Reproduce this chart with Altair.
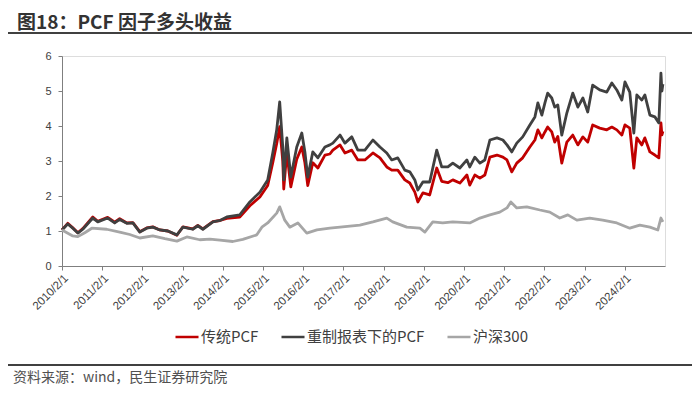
import altair as alt
import pandas as pd

# ---- data ----
pcf_dates = [
    "2010-02-01", "2010-03-25", "2010-05-10", "2010-06-25", "2010-08-09", "2010-11-08", "2010-12-23",
    "2011-03-23", "2011-05-26", "2011-07-10", "2011-09-13", "2011-11-07",
    "2012-01-09", "2012-03-12", "2012-05-06", "2012-07-09", "2012-09-20", "2012-12-11",
    "2013-02-04", "2013-05-04", "2013-06-19", "2013-08-04", "2013-11-03",
    "2014-01-06", "2014-03-09", "2014-07-05", "2014-10-05",
    "2015-01-04", "2015-03-16", "2015-05-01", "2015-06-06", "2015-07-03", "2015-07-31", "2015-08-09",
    "2015-09-06", "2015-10-12", "2015-12-05",
    "2016-01-20", "2016-02-17", "2016-03-14", "2016-04-29", "2016-06-14", "2016-08-17", "2016-10-01", "2016-10-28",
    "2017-01-01", "2017-02-15", "2017-04-18", "2017-06-12", "2017-08-15", "2017-10-27", "2017-12-30",
    "2018-03-02", "2018-04-16", "2018-06-10", "2018-08-13", "2018-09-27", "2018-11-12", "2018-12-09",
    "2019-01-24", "2019-03-27", "2019-05-30", "2019-07-14", "2019-09-08", "2019-10-23", "2019-12-26",
    "2020-02-28", "2020-03-25", "2020-05-10", "2020-06-25", "2020-08-09", "2020-09-24", "2020-11-27",
    "2021-01-20", "2021-02-26", "2021-04-11", "2021-05-26", "2021-07-19", "2021-09-22", "2021-11-07", "2021-12-04",
    "2022-01-09", "2022-02-06", "2022-03-03", "2022-04-09", "2022-05-06", "2022-06-03", "2022-07-09",
    "2022-08-24", "2022-10-17", "2022-12-02",
    "2023-01-17", "2023-03-02", "2023-04-16", "2023-06-19", "2023-08-22", "2023-10-07", "2023-11-21",
    "2024-01-06", "2024-02-03", "2024-03-18", "2024-04-24", "2024-05-21", "2024-07-05", "2024-08-02",
    "2024-09-17", "2024-11-01", "2024-12-07", "2024-12-26", "2025-01-04", "2025-01-13",
]
pcf_restated = [
    1.03, 1.20, 1.08, 0.94, 1.05, 1.37, 1.26,
    1.37, 1.23, 1.33, 1.22, 1.23,
    0.97, 1.08, 1.11, 1.03, 1.00, 0.89,
    1.11, 1.05, 1.15, 1.05, 1.26,
    1.30, 1.40, 1.46, 1.83,
    2.11, 2.46, 3.23, 3.89, 4.69, 3.40, 2.46,
    3.66, 2.54, 3.40,
    3.80, 3.26, 2.54, 3.26, 3.09, 3.40, 3.46, 3.51,
    3.74, 3.51, 3.69, 3.31, 3.31, 3.60, 3.40,
    3.23, 3.03, 3.09, 2.74, 2.69, 2.46, 2.17,
    2.40, 2.40, 3.31, 2.83, 2.83, 2.94, 2.80,
    3.03, 2.83, 3.11, 2.94, 3.03, 3.60, 3.66,
    3.60, 3.46, 3.26, 3.51, 3.69, 4.03, 4.26, 4.66,
    4.31, 4.66, 4.94, 4.80, 4.54, 4.60, 3.74,
    4.37, 4.94, 4.54,
    4.80, 4.40, 5.17, 5.03, 4.97, 5.23, 5.03,
    4.74, 5.26, 4.97, 3.80, 4.89, 4.74, 4.89,
    4.31, 4.26, 4.09, 5.51, 5.00, 5.20,
]
pcf_traditional = [
    1.03, 1.22, 1.09, 0.95, 1.07, 1.40, 1.28,
    1.39, 1.25, 1.35, 1.23, 1.24,
    0.98, 1.09, 1.12, 1.03, 1.00, 0.88,
    1.12, 1.06, 1.16, 1.06, 1.27,
    1.30, 1.36, 1.40, 1.72,
    1.97, 2.30, 2.95, 3.50, 3.98, 3.00, 2.20,
    3.25, 2.26, 3.05,
    3.40, 2.95, 2.30, 2.95, 2.80, 3.17, 3.20, 3.31,
    3.46, 3.23, 3.31, 3.03, 3.03, 3.23, 3.09,
    2.83, 2.74, 2.74, 2.46, 2.37, 2.11, 1.83,
    2.09, 2.03, 2.80, 2.42, 2.38, 2.46, 2.37,
    2.60, 2.31, 2.60, 2.51, 2.60, 3.11, 3.17,
    3.11, 3.03, 2.69, 2.94, 3.09, 3.40, 3.60, 3.89,
    3.66, 3.83, 3.97, 3.83, 3.54, 3.70, 2.94,
    3.54, 3.74, 3.46,
    3.69, 3.54, 4.03, 3.94, 3.89, 3.97, 3.89,
    3.74, 4.03, 3.94, 2.80, 3.66, 3.46, 3.66,
    3.26, 3.17, 3.09, 4.09, 3.75, 3.85,
]
hs300_dates = [
    "2010-02-01", "2010-05-10", "2010-06-25", "2010-08-27", "2010-10-30",
    "2011-03-14", "2011-07-10", "2011-10-10",
    "2012-01-09", "2012-05-06", "2012-08-24", "2012-12-11",
    "2013-03-11", "2013-07-07", "2013-10-07",
    "2014-01-06", "2014-05-03", "2014-08-02", "2014-12-07",
    "2015-01-22", "2015-03-16", "2015-06-06", "2015-07-03", "2015-08-18", "2015-10-03", "2015-12-15",
    "2016-03-05", "2016-06-05", "2016-10-01",
    "2017-01-01", "2017-06-30", "2017-10-27",
    "2018-03-02", "2018-04-25", "2018-08-31", "2018-12-28",
    "2019-02-11", "2019-04-24", "2019-07-23", "2019-10-23",
    "2020-03-25", "2020-06-25", "2020-09-24", "2020-12-23",
    "2021-02-26", "2021-04-02", "2021-05-26", "2021-08-25", "2021-12-22",
    "2022-03-22", "2022-06-21", "2022-09-02", "2022-11-23",
    "2023-03-20", "2023-07-16", "2023-11-21",
    "2024-03-18", "2024-06-17", "2024-09-17", "2024-11-28", "2024-12-26", "2025-01-13",
]
hs300 = [
    1.03, 0.86, 0.84, 0.95, 1.08,
    1.05, 0.97, 0.90,
    0.80, 0.86, 0.78, 0.71,
    0.83, 0.75, 0.77,
    0.74, 0.70, 0.76, 0.89,
    1.11, 1.23, 1.51, 1.69, 1.31, 1.11, 1.23,
    0.94, 1.03, 1.08,
    1.11, 1.17, 1.26,
    1.37, 1.26, 1.11, 1.08,
    0.97, 1.26, 1.23, 1.26,
    1.23, 1.37, 1.46, 1.54,
    1.66, 1.83, 1.66, 1.69, 1.60,
    1.54, 1.37, 1.46, 1.31,
    1.37, 1.31, 1.23,
    1.08, 1.17, 1.11, 1.03, 1.37, 1.26,
]
series_names = ["传统PCF", "重制报表下的PCF", "沪深300"]
series_colors = ["#C00000", "#404040", "#A6A6A6"]
year_ticks = list(range(2010, 2025))
y_ticks = [0, 1, 2, 3, 4, 5, 6]
title_text = "图18：PCF 因子多头收益"
source_text = "资料来源：wind，民生证券研究院"

df = pd.concat([
    pd.DataFrame({"date": pcf_dates, "value": pcf_traditional, "series": series_names[0]}),
    pd.DataFrame({"date": pcf_dates, "value": pcf_restated, "series": series_names[1]}),
    pd.DataFrame({"date": hs300_dates, "value": hs300, "series": series_names[2]}),
], ignore_index=True)

W, H = 603, 210
CJK = "Noto Sans CJK SC"

color = alt.Color(
    "series:N",
    scale=alt.Scale(domain=series_names, range=series_colors),
    legend=alt.Legend(
        title=None, orient="none", direction="horizontal",
        legendX=112, legendY=268,
        symbolType="stroke", symbolSize=530, symbolStrokeWidth=2.5,
        labelFont=CJK, labelFontSize=15, labelColor="#404040",
        labelOffset=1, columnPadding=17, padding=0,
    ),
)

x_enc = alt.X(
    "date:T",
    scale=alt.Scale(type="utc", domain=[alt.DateTime(year=2010, month=2, date=1, utc=True),
                                         alt.DateTime(year=2025, month=2, date=1, utc=True)]),
    axis=alt.Axis(
        title=None, values=[alt.DateTime(year=y, month=2, date=1, utc=True) for y in year_ticks],
        labelExpr="utcFormat(datum.value, '%Y/%-m/%-d')", labelAngle=-45,
        labelFont="Liberation Sans", labelFontSize=11.5, labelColor="#404040",
        labelOverlap=False, labelFlush=False, labelBound=False,
        domainColor="#7F7F7F", tickColor="#7F7F7F", tickSize=4, grid=False, labelPadding=2,
    ),
)
y_enc = alt.Y(
    "value:Q",
    scale=alt.Scale(domain=[0, 6], nice=False),
    axis=alt.Axis(
        title=None, values=y_ticks, labelFont="Liberation Sans", labelFontSize=11,
        labelColor="#404040", domainColor="#7F7F7F", tickColor="#7F7F7F", tickSize=4,
        grid=False, labelPadding=7,
    ),
)

layers = []
for name in series_names:
    layers.append(
        alt.Chart(df).transform_filter(alt.datum.series == name)
        .mark_line(strokeWidth=2.8, strokeJoin="round")
        .encode(x=x_enc, y=y_enc, color=color)
    )

one = pd.DataFrame({"k": [0]})
title = alt.Chart(one).mark_text(
    text=title_text, font=CJK, fontSize=19, fontWeight="bold", color="#333333",
    align="left", baseline="middle",
).encode(x=alt.value(-45), y=alt.value(-33))
title_rule = alt.Chart(one).mark_rule(color="#404040", strokeWidth=2).encode(
    x=alt.value(-54), x2=alt.value(630), y=alt.value(-23))
foot_rule = alt.Chart(one).mark_rule(color="#404040", strokeWidth=2).encode(
    x=alt.value(-54), x2=alt.value(630), y=alt.value(309))
source = alt.Chart(one).mark_text(
    text=source_text, font=CJK, fontSize=14, color="#505050",
    align="left", baseline="middle",
).encode(x=alt.value(-49), y=alt.value(322))

chart = alt.layer(*layers, title, title_rule, foot_rule, source).properties(
    width=W, height=H,
    padding={"left": 54, "top": 48, "right": 27, "bottom": 120},
    autosize=alt.AutoSizeParams(type="none"),
).configure_view(stroke=None).configure(background="white")

chart.save("out.html", embed_options={"renderer": "svg", "actions": False})
